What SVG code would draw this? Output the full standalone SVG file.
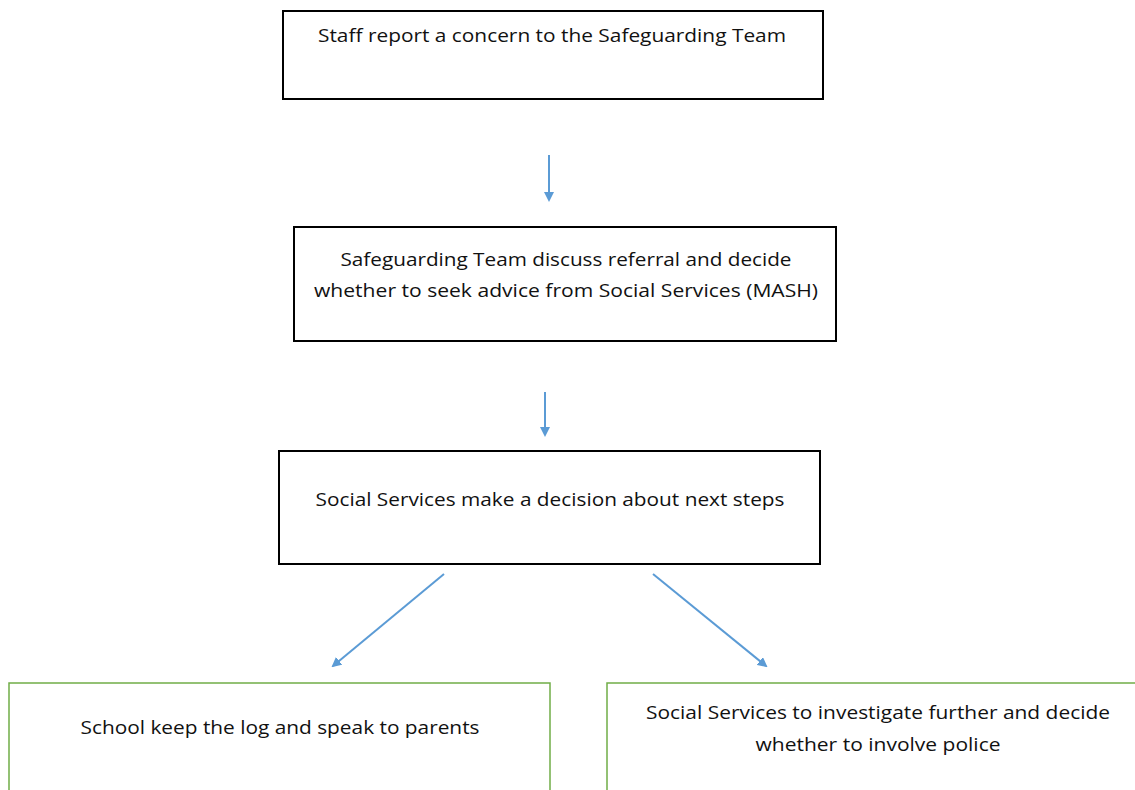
<svg xmlns="http://www.w3.org/2000/svg" width="1135" height="790" viewBox="0 0 1135 790">
<defs>
<marker id="ah" markerWidth="10" markerHeight="10" refX="8" refY="5" orient="auto" markerUnits="userSpaceOnUse">
<path d="M0,0 L10,5 L0,10 Z" fill="#5B9BD5"/>
</marker>
</defs>
<style>
.box{fill:#fff;stroke:#000;stroke-width:2}
.gbox{fill:#fff;stroke:#70AD47;stroke-width:1.5}
.t{font-family:"Open Sans","Liberation Sans",sans-serif;font-size:19px;fill:#111;text-anchor:middle}
.c{stroke:#5B9BD5;stroke-width:2;fill:none;marker-end:url(#ah)}
</style>
<rect width="1135" height="790" fill="#fff"/>
<g id="n1">
<rect class="box" x="283" y="11" width="540" height="88"/>
<text class="t" x="552" y="42" textLength="468" lengthAdjust="spacingAndGlyphs">Staff report a concern to the Safeguarding Team</text>
</g>
<g id="n2">
<rect class="box" x="294" y="227" width="542" height="114"/>
<text class="t" x="566" y="266" textLength="451" lengthAdjust="spacingAndGlyphs">Safeguarding Team discuss referral and decide</text>
<text class="t" x="566" y="297" textLength="504" lengthAdjust="spacingAndGlyphs">whether to seek advice from Social Services (MASH)</text>
</g>
<g id="n3">
<rect class="box" x="279" y="451" width="541" height="113"/>
<text class="t" x="550" y="506" textLength="469" lengthAdjust="spacingAndGlyphs">Social Services make a decision about next steps</text>
</g>
<g id="n4">
<rect class="gbox" x="9" y="683" width="541" height="120"/>
<text class="t" x="280" y="734" textLength="399" lengthAdjust="spacingAndGlyphs">School keep the log and speak to parents</text>
</g>
<g id="n5">
<rect class="gbox" x="607" y="683" width="540" height="120"/>
<text class="t" x="878" y="719" textLength="464" lengthAdjust="spacingAndGlyphs">Social Services to investigate further and decide</text>
<text class="t" x="878" y="751" textLength="245" lengthAdjust="spacingAndGlyphs">whether to involve police</text>
</g>
<g id="connectors">
<line class="c" x1="549" y1="155" x2="549" y2="200"/>
<line class="c" x1="545" y1="392" x2="545" y2="435"/>
<line class="c" x1="444" y1="574" x2="333" y2="666"/>
<line class="c" x1="653" y1="574" x2="766" y2="666"/>
</g>
</svg>
